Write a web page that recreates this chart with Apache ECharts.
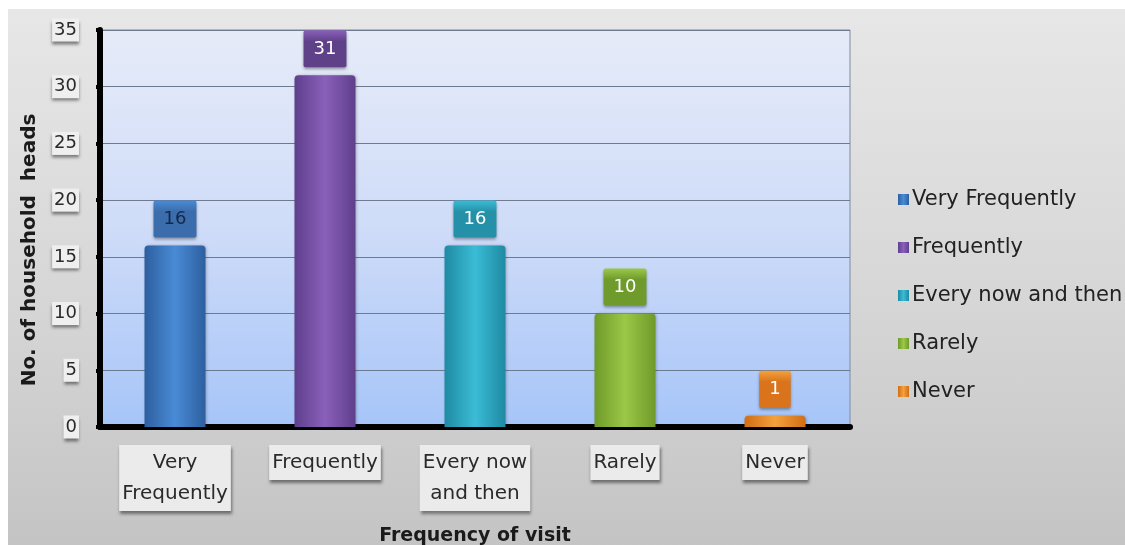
<!DOCTYPE html>
<html>
<head>
<meta charset="utf-8">
<script src="https://cdn.jsdelivr.net/npm/echarts@6/dist/echarts.min.js"></script>
<style>
  html, body { margin: 0; padding: 0; background: #ffffff; }
  #wrap { position: relative; width: 1125px; height: 545px; overflow: hidden; }
  #panel { position: absolute; left: 8px; top: 9px; right: 0; bottom: 0;
           background: linear-gradient(to bottom, #e7e7e7 0%, #d6d6d6 55%, #c4c4c4 100%); }
  #chart { position: absolute; left: 0; top: 0; width: 1125px; height: 545px; }
</style>
</head>
<body>
<div id="wrap">
  <div id="panel"></div>
  <div id="chart"></div>
</div>
<script>
// Survey: how often household heads visit
const categories = ['Very\nFrequently', 'Frequently', 'Every now\nand then', 'Rarely', 'Never'];
const seriesNames = ['Very Frequently', 'Frequently', 'Every now and then', 'Rarely', 'Never'];
const values = [16, 31, 16, 10, 1];
const yMin = 0;
const yMax = 35;
const yStep = 5;

// colour per category: [bar edge, bar centre, label box, label text]
const palette = [
  ['#2d5f9f', '#4a8bd6', '#3b6cab', '#13284d'],
  ['#5f3f8c', '#8a60ba', '#5e4188', '#ffffff'],
  ['#1f8aa3', '#3bbcd6', '#2591a8', '#ffffff'],
  ['#6f9a2a', '#9bc848', '#6f9a2c', '#ffffff'],
  ['#d06d15', '#f4a23d', '#d9741c', '#ffffff']
];

const FONT = 'DejaVu Sans';
const G = echarts.graphic;

const series = seriesNames.map(function (name, i) {
  const c = palette[i];
  const data = categories.map(function (_, j) { return j === i ? values[j] : '-'; });
  return {
    name: name,
    type: 'bar',
    stack: 'visits',
    barWidth: 61,
    data: data,
    itemStyle: {
      color: new G.LinearGradient(0, 0, 1, 0, [
        { offset: 0, color: c[0] },
        { offset: 0.5, color: c[1] },
        { offset: 1, color: c[0] }
      ]),
      borderRadius: [4, 4, 0, 0],
      shadowColor: 'rgba(0,0,0,0.25)',
      shadowBlur: 3,
      shadowOffsetX: 1
    },
    label: {
      show: true,
      position: 'top',
      distance: 8,
      fontFamily: FONT,
      fontSize: 18,
      color: c[3],
      padding: [10, 10, 9, 10],
      backgroundColor: new G.LinearGradient(0, 0, 0, 1, [
        { offset: 0, color: c[1] },
        { offset: 0.3, color: c[2] },
        { offset: 1, color: c[2] }
      ]),
      borderRadius: 2,
      shadowColor: 'rgba(0,0,0,0.35)',
      shadowBlur: 3,
      shadowOffsetY: 2
    },
    emphasis: { disabled: true }
  };
});

const chart = echarts.init(document.getElementById('chart'), null, { renderer: 'canvas' });

chart.setOption({
  animation: false,
  backgroundColor: 'transparent',
  color: palette.map(function (c) { return c[1]; }),
  grid: {
    left: 100,
    right: 275,
    top: 30,
    bottom: 118,
    show: true,
    borderColor: '#7d8ba3',
    borderWidth: 1,
    backgroundColor: new G.LinearGradient(0, 0, 0, 1, [
      { offset: 0, color: '#e6ebf8' },
      { offset: 0.5, color: '#cfdcf8' },
      { offset: 1, color: '#a6c5f8' }
    ])
  },
  legend: {
    orient: 'vertical',
    left: 893,
    top: 184,
    itemWidth: 11,
    itemHeight: 11,
    itemGap: 27,
    icon: 'rect',
    data: seriesNames,
    textStyle: { fontFamily: FONT, fontSize: 21, color: '#222222', lineHeight: 21, padding: [0, 0, 0, -2] }
  },
  xAxis: {
    type: 'category',
    data: categories,
    axisLine: { show: true, lineStyle: { color: '#000000', width: 6 } },
    axisTick: { show: false },
    axisLabel: {
      interval: 0,
      margin: 18,
      fontFamily: FONT,
      fontSize: 20,
      lineHeight: 31,
      color: '#2a2a2a',
      backgroundColor: '#ebebeb',
      padding: [2, 3, 2, 3],
      shadowColor: 'rgba(0,0,0,0.45)',
      shadowBlur: 3,
      shadowOffsetX: 1,
      shadowOffsetY: 3
    }
  },
  yAxis: {
    type: 'value',
    min: yMin,
    max: yMax,
    interval: yStep,
    axisLine: { show: true, lineStyle: { color: '#000000', width: 6 } },
    axisTick: { show: true, length: 4, lineStyle: { color: '#000000', width: 4 } },
    splitLine: { show: true, lineStyle: { color: '#6d7a90', width: 1 } },
    axisLabel: {
      margin: 21,
      fontFamily: FONT,
      fontSize: 18,
      color: '#2a2a2a',
      backgroundColor: '#efefef',
      padding: [3, 2, 2, 2],
      shadowColor: 'rgba(0,0,0,0.45)',
      shadowBlur: 3,
      shadowOffsetY: 3
    }
  },
  graphic: [
    {
      type: 'text',
      x: 30,
      y: 250,
      rotation: Math.PI / 2,
      style: {
        text: 'No. of household  heads',
        fontFamily: FONT,
        fontWeight: 'bold',
        fontSize: 20,
        fill: '#1a1a1a',
        align: 'center',
        verticalAlign: 'middle'
      }
    },
    {
      type: 'text',
      x: 475,
      y: 536,
      style: {
        text: 'Frequency of visit',
        fontFamily: FONT,
        fontWeight: 'bold',
        fontSize: 19,
        fill: '#1a1a1a',
        align: 'center',
        verticalAlign: 'middle'
      }
    }
  ],
  series: series
});
</script>
</body>
</html>
